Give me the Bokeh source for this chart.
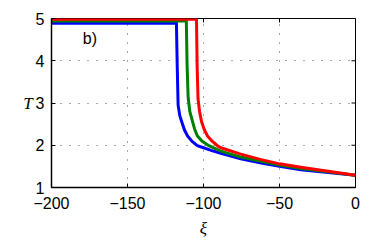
import math
from bokeh.plotting import figure
from bokeh.models import Range1d, Label, FixedTicker
from bokeh.embed import file_html
from bokeh.resources import INLINE

# ---- data ----
xi_blue = [-200, -117.8, -117.3, -116.7, -115.6, -114.0, -112.5, -110.5, -107.5, -104.0,
           -100.0, -95.0, -88.6, -75.5, -62.0, -50.0, -36.0, -18.0, 0.0]
T_blue = [4.89, 4.89, 3.90, 2.95, 2.70, 2.52, 2.36, 2.22, 2.09, 1.99,
          1.94, 1.88, 1.81, 1.68, 1.58, 1.50, 1.42, 1.355, 1.29]

xi_green = [-200, -111.3, -110.8, -110.1, -109.0, -107.2, -105.8, -104.0, -101.0, -96.5,
            -88.6, -75.5, -62.0, -50.0, -36.0, -18.0, 0.0]
T_green = [4.94, 4.94, 3.90, 3.13, 2.80, 2.56, 2.38, 2.22, 2.10, 1.99,
           1.86, 1.72, 1.62, 1.53, 1.45, 1.37, 1.29]

xi_red = [-200, -104.6, -104.2, -103.6, -102.6, -101.3, -99.6, -97.4, -94.5, -90.8,
          -88.6, -75.5, -62.0, -50.0, -36.0, -18.0, 0.0]
T_red = [4.98, 4.98, 3.90, 3.10, 2.80, 2.56, 2.38, 2.22, 2.10, 1.99,
         1.94, 1.79, 1.66, 1.56, 1.48, 1.385, 1.29]

x_ticks = [-200, -150, -100, -50, 0]
x_tick_labels = ["\u2212200", "\u2212150", "\u2212100", "\u221250", "0"]
y_ticks = [1, 2, 3, 4, 5]
y_tick_labels = ["1", "2", "3", "4", "5"]

panel_label = "b)"
x_label = "\u03be"
y_label = "T"

x_min, x_max = -200, 0
y_min, y_max = 1, 5

W, H = 390, 240
p = figure(width=W, height=H, x_range=Range1d(x_min, x_max), y_range=Range1d(y_min, y_max),
           output_backend="svg", toolbar_location=None,
           min_border_left=51, min_border_right=W - 355, min_border_top=18,
           min_border_bottom=H - 194)
p.background_fill_color = "white"
p.border_fill_color = "white"
p.outline_line_color = "black"
p.outline_line_width = 1

for ax, ticks, labels in ((p.xaxis[0], x_ticks, x_tick_labels), (p.yaxis[0], y_ticks, y_tick_labels)):
    ax.ticker = FixedTicker(ticks=ticks)
    ax.major_label_overrides = {t: l for t, l in zip(ticks, labels)}
    ax.major_label_text_font = "Liberation Sans"
    ax.major_label_text_font_size = "16px"
    ax.major_label_text_color = "black"
    ax.major_tick_in = 4
    ax.major_tick_out = 0
    ax.minor_tick_line_color = None
    ax.axis_line_width = 1.5
    ax.axis_line_color = "black"
    ax.major_tick_line_color = "black"
    ax.axis_label_text_font = "Liberation Serif"
    ax.axis_label_text_font_style = "italic"
    ax.axis_label_text_font_size = "17px"
    ax.axis_label_text_color = "black"

p.xaxis[0].major_label_standoff = 9
p.yaxis[0].major_label_standoff = 7
p.xaxis[0].axis_label = x_label
p.xaxis[0].axis_label_standoff = 7
p.yaxis[0].axis_label = y_label
p.yaxis[0].axis_label_orientation = "horizontal"
p.yaxis[0].axis_label_standoff = 0

for g in (p.xgrid[0], p.ygrid[0]):
    g.grid_line_color = "#555555"
    g.grid_line_dash = "1 8"
    g.grid_line_width = 1
p.xgrid[0].ticker = FixedTicker(ticks=x_ticks)
p.ygrid[0].ticker = FixedTicker(ticks=y_ticks)

# mirrored inward ticks on the top and right edges (screen-length rays)
p.ray(x=x_ticks, y=[y_max] * len(x_ticks), length=4, length_units="screen",
      angle=-math.pi / 2, line_color="black", line_width=1)
p.ray(x=[x_max] * len(y_ticks), y=y_ticks, length=4, length_units="screen",
      angle=math.pi, line_color="black", line_width=1)

p.line(xi_blue, T_blue, line_color="#0000ff", line_width=3, line_join="miter")
p.line(xi_green, T_green, line_color="#008000", line_width=3, line_join="miter")
p.line(xi_red, T_red, line_color="#ff0000", line_width=3, line_join="miter")

p.add_layout(Label(x=-179.4, y=4.53, text=panel_label, text_font="Liberation Sans",
                   text_font_size="16px", text_baseline="middle", text_color="black"))

open("out.html", "w").write(file_html(p, INLINE))
